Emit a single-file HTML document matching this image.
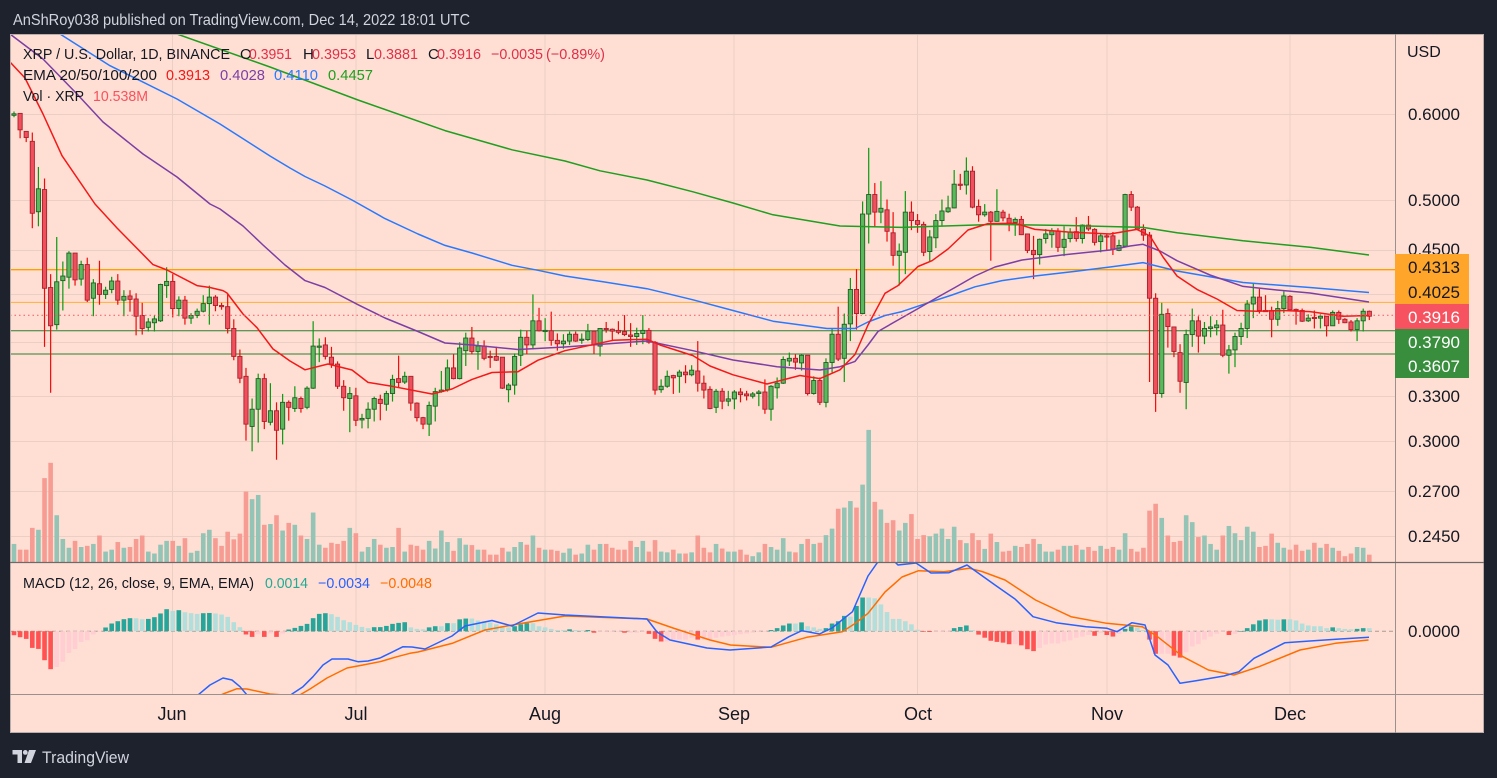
<!DOCTYPE html>
<html><head><meta charset="utf-8">
<style>
html,body{margin:0;padding:0;background:#1e222d;width:1497px;height:778px;overflow:hidden}
svg{display:block}
text{font-family:"Liberation Sans",sans-serif}
</style></head><body>
<svg id="s" width="1497" height="778" viewBox="0 0 1497 778" xmlns="http://www.w3.org/2000/svg">
<defs>
<clipPath id="cm"><rect x="10" y="34" width="1385" height="528"/></clipPath>
<clipPath id="cd"><rect x="10" y="563" width="1385" height="131"/></clipPath>
</defs>
<rect width="1497" height="778" fill="#1e222d"/>
<text x="13" y="25" fill="#d1d4dc" font-size="16" textLength="457" lengthAdjust="spacingAndGlyphs">AnShRoy038 published on TradingView.com, Dec 14, 2022 18:01 UTC</text>
<rect x="10" y="34" width="1474" height="699" fill="#ffdfd3"/>
<g id="grid"></g>
<g id="main" clip-path="url(#cm)"></g>
<g id="macd" clip-path="url(#cd)"></g>
<g id="frame">
<line x1="10" y1="34.5" x2="1484" y2="34.5" stroke="#b9aeaa" stroke-width="1"/>
<line x1="10.5" y1="34" x2="10.5" y2="733" stroke="#b9aeaa" stroke-width="1"/>
<line x1="1483.5" y1="34" x2="1483.5" y2="733" stroke="#b9aeaa" stroke-width="1"/>
<line x1="10" y1="732.5" x2="1484" y2="732.5" stroke="#b9aeaa" stroke-width="1"/>
<line x1="1395.5" y1="34" x2="1395.5" y2="733" stroke="#9a918e" stroke-width="1"/>
<line x1="10" y1="562.5" x2="1484" y2="562.5" stroke="#6f6a69" stroke-width="1.2"/>
<line x1="10" y1="694.5" x2="1484" y2="694.5" stroke="#9a918e" stroke-width="1"/>
</g>
<g font-size="15" fill="#131722">
<text x="23" y="59" textLength="207" lengthAdjust="spacingAndGlyphs">XRP / U.S. Dollar, 1D, BINANCE</text>
<text x="240" y="59">O</text><text x="249" y="59" fill="#e0304a" textLength="43" lengthAdjust="spacingAndGlyphs">0.3951</text>
<text x="303" y="59">H</text><text x="312" y="59" fill="#e0304a" textLength="44" lengthAdjust="spacingAndGlyphs">0.3953</text>
<text x="366" y="59">L</text><text x="374" y="59" fill="#e0304a" textLength="44" lengthAdjust="spacingAndGlyphs">0.3881</text>
<text x="428" y="59">C</text><text x="437" y="59" fill="#e0304a" textLength="44" lengthAdjust="spacingAndGlyphs">0.3916</text>
<text x="491" y="59" fill="#e0304a" textLength="52" lengthAdjust="spacingAndGlyphs">−0.0035</text>
<text x="546" y="59" fill="#e0304a" textLength="59" lengthAdjust="spacingAndGlyphs">(−0.89%)</text>
<text x="23" y="80" textLength="134" lengthAdjust="spacingAndGlyphs">EMA 20/50/100/200</text>
<text x="166" y="80" fill="#f41818" textLength="44" lengthAdjust="spacingAndGlyphs">0.3913</text>
<text x="220" y="80" fill="#7b3fa6" textLength="45" lengthAdjust="spacingAndGlyphs">0.4028</text>
<text x="274" y="80" fill="#2979ff" textLength="44" lengthAdjust="spacingAndGlyphs">0.4110</text>
<text x="328" y="80" fill="#1f9e1f" textLength="45" lengthAdjust="spacingAndGlyphs">0.4457</text>
<text x="23" y="101" textLength="61" lengthAdjust="spacingAndGlyphs">Vol · XRP</text>
<text x="93" y="101" fill="#f7525f" textLength="55" lengthAdjust="spacingAndGlyphs">10.538M</text>
<text x="23" y="588" textLength="231" lengthAdjust="spacingAndGlyphs">MACD (12, 26, close, 9, EMA, EMA)</text>
<text x="265" y="588" fill="#22ab94" textLength="43" lengthAdjust="spacingAndGlyphs">0.0014</text>
<text x="318" y="588" fill="#2962ff" textLength="52" lengthAdjust="spacingAndGlyphs">−0.0034</text>
<text x="380" y="588" fill="#ff6d00" textLength="52" lengthAdjust="spacingAndGlyphs">−0.0048</text>
</g>
<g font-size="17" fill="#131722">
<text x="1407" y="57" font-size="16">USD</text>
<text x="1408" y="120">0.6000</text>
<text x="1408" y="206">0.5000</text>
<text x="1408" y="255">0.4500</text>
<text x="1408" y="402">0.3300</text>
<text x="1408" y="447">0.3000</text>
<text x="1408" y="497">0.2700</text>
<text x="1408" y="542">0.2450</text>
<text x="1408" y="637">0.0000</text>
</g>
<g font-size="17">
<rect x="1395" y="254" width="74" height="25" fill="#ffa52a"/>
<text x="1408" y="273" fill="#131722">0.4313</text>
<rect x="1395" y="279" width="74" height="25" fill="#ffa52a"/>
<text x="1408" y="298" fill="#131722">0.4025</text>
<rect x="1395" y="304" width="74" height="25" fill="#f7525f"/>
<text x="1408" y="323" fill="#ffffff">0.3916</text>
<rect x="1395" y="329" width="74" height="25" fill="#388e3c"/>
<text x="1408" y="348" fill="#ffffff">0.3790</text>
<rect x="1395" y="354" width="74" height="24" fill="#388e3c"/>
<text x="1408" y="372" fill="#ffffff">0.3607</text>
</g>
<g font-size="18" fill="#131722" text-anchor="middle">
<text x="172" y="720">Jun</text>
<text x="356" y="720">Jul</text>
<text x="545" y="720">Aug</text>
<text x="734" y="720">Sep</text>
<text x="918" y="720">Oct</text>
<text x="1107" y="720">Nov</text>
<text x="1290" y="720">Dec</text>
</g>
<g fill="#d1d4dc">
<path d="M12.5,750 H22 V763 H17.5 V754.5 H12.5 Z"/>
<circle cx="25.3" cy="752.4" r="2.4"/>
<path d="M29,750 H36 L31,763 H24.5 Z"/>
<text x="42" y="763" font-size="17" textLength="87" lengthAdjust="spacingAndGlyphs">TradingView</text>
</g>
</svg>
<script>
(function(){
var NS='http://www.w3.org/2000/svg';
function el(p,t,a){var e=document.createElementNS(NS,t);for(var k in a)e.setAttribute(k,a[k]);p.appendChild(e);return e;}
function Y(z){return 100+z/2.613;}
function X(i){return 14+6.105*i;}
function yP(p){return 200+471.7*Math.log(0.5/p);}
var C=[40,36,30,45,35,78,35,100,82,98,82,110,108,296,85,335,292,232,175,330,234,492,205,645,490,590,455,765,587,475,358,600,472,460,422,550,463,400,395,493,400,470,400,485,468,430,420,485,430,523,412,528,518,478,468,565,480,508,420,535,508,497,488,520,495,473,462,505,473,523,455,535,523,513,497,565,512,521,497,553,520,565,505,615,563,597,530,613,594,580,570,605,582,572,563,605,577,482,480,580,485,474,437,517,474,545,455,568,545,523,513,565,523,570,512,587,570,563,557,585,563,552,545,570,552,532,510,555,532,515,485,587,515,537,510,552,537,539,530,548,540,597,505,610,597,670,573,680,670,727,652,740,722,847,700,890,853,808,780,918,808,728,715,895,728,840,715,860,842,812,740,850,812,863,790,940,860,790,768,900,790,803,785,838,806,778,748,815,780,806,775,817,803,753,748,808,753,643,578,755,645,643,623,685,640,670,620,678,672,690,645,700,690,748,683,755,748,778,732,812,780,767,750,868,773,837,752,852,836,832,820,858,832,808,790,858,808,780,775,840,782,793,770,837,795,767,760,812,767,730,718,788,728,738,668,750,737,722,710,742,722,792,722,812,792,830,790,840,830,847,828,860,847,798,788,878,800,762,752,840,762,758,708,765,757,700,678,762,700,728,665,730,728,648,633,730,655,622,608,695,622,657,593,665,657,643,630,705,643,675,628,680,670,672,655,700,670,680,645,682,672,753,672,755,757,745,740,790,745,670,662,770,667,620,600,695,620,640,603,665,640,577,508,652,577,603,543,605,604,602,570,630,603,628,553,642,628,637,610,655,637,630,612,650,630,612,605,640,612,630,605,632,628,625,610,637,626,604,585,630,604,640,603,663,643,597,597,670,597,600,580,608,599,604,597,630,602,607,578,612,605,613,562,617,614,618,583,645,618,610,595,640,610,602,562,638,602,633,596,637,633,758,630,770,757,748,730,765,748,722,707,752,720,726,718,768,722,711,705,765,711,718,693,740,718,706,693,722,708,740,630,762,740,758,720,780,756,806,748,808,803,761,755,818,761,787,753,808,787,781,760,800,781,763,758,808,763,770,753,790,768,773,760,785,774,768,763,780,767,763,758,800,763,808,730,820,808,748,745,838,752,740,725,780,740,678,670,742,682,675,660,695,675,685,665,705,687,667,665,707,667,767,667,772,767,733,722,770,733,790,725,797,790,686,675,803,686,612,598,712,612,677,540,682,675,586,558,737,585,495,465,630,495,558,442,600,558,298,265,560,298,247,125,375,247,293,217,332,293,283,212,322,287,343,260,370,347,406,293,433,406,395,375,485,398,293,238,455,293,315,265,340,315,325,298,347,325,398,318,408,396,358,340,423,360,315,298,387,315,290,260,330,292,282,250,295,282,220,183,283,220,222,193,235,222,186,150,247,186,280,173,283,278,300,260,318,300,293,272,305,293,317,290,420,317,291,233,318,293,308,287,317,309,322,297,343,320,312,307,355,312,352,303,353,350,393,350,400,393,404,355,468,404,364,362,430,362,350,337,375,352,342,335,386,342,385,335,397,385,364,330,408,362,345,335,372,344,362,306,370,362,327,325,375,327,337,303,342,338,372,335,380,370,355,350,398,355,357,350,393,355,390,345,405,393,380,365,395,382,247,245,385,247,280,238,290,280,337,277,340,338,353,325,368,353,518,345,737,518,767,505,815,767,560,530,778,558,592,545,647,593,657,593,672,660,735,638,765,738,613,600,808,613,577,545,645,577,617,565,660,617,597,580,638,597,593,565,620,595,588,575,615,588,667,548,672,667,653,640,715,653,618,608,698,618,597,582,640,597,533,523,622,533,515,480,570,515,550,493,558,550,552,510,552,550,573,540,620,573,545,525,590,545,512,500,557,513,548,510,552,547,550,545,587,550,578,545,580,577,570,560,580,568,570,550,597,570,565,560,597,565,590,565,618,590,555,550,590,555,573,550,585,573,582,570,583,580,600,575,605,600,577,570,630,577,552,545,605,552,565,550,575];
var V=[1160,1175,1175,1118,1123,988,948,1085,1147,1170,1152,1168,1165,1160,1138,1180,1175,1155,1170,1168,1147,1138,1180,1185,1162,1152,1152,1165,1145,1183,1178,1132,1123,1145,1165,1128,1148,1133,1023,1043,1032,1110,1108,1085,1125,1105,
1110,1138,1147,1078,1162,1170,1157,1160,1152,1118,1132,1180,1168,1147,1162,1170,1168,1118,1180,1162,1165,1175,1152,1172,1125,1155,1178,1145,1162,1163,1175,1175,1188,1188,1170,1180,1168,1155,1162,1138,1170,1175,1175,1178,1183,
1172,1188,1185,1162,1175,1160,1160,1170,1175,1175,1152,1168,1152,1180,1150,1180,1182,1175,1185,1185,1182,1138,1170,1182,1160,1172,1180,1180,1175,1188,1192,1182,1160,1168,1175,1145,1180,1182,1160,1147,1160,1157,1137,1120,1068,
1065,1048,1065,1005,862,1050,1070,1105,1098,1125,1105,1082,1147,1137,1140,1133,1120,1147,1115,1150,1158,1132,1150,1173,1133,1155,1180,1178,1165,1168,1160,1147,1160,1180,1180,1175,1165,1165,1163,1175,1168,1178,1165,1173,1168,
1175,1132,1173,1180,1170,1073,1055,1092,1138,1155,1152,1085,1103,1142,1138,1160,1175,1138,1113,1132,1150,1115,1128,1168,1165,1133,1157,1170,1175,1162,1178,1175,1157,1170,1160,1170,1178,1192,1185,1168,1170,1188];
var H=[1398.5,1403.7,1408.1,1431.6,1434.3,1463.8,1487.3,1481.3,1468.2,1444.7,1434.3,1416,1411.5,1396.6,1389.3,1378.3,1367.9,1361.9,1356.6,1354,1354.3,1356.6,1355.9,1351.4,1341.7,1330.5,1335,1333.1,1338.4,1341,1342.8,1341,1340.4,1341.7,1344.4,1350.6,1364.5,1377.5,1396.6,1402.9,1395.8,1402.9,1394,1402.9,1394,1383.6,1379.4,1374.2,1368.9,1354,1342.8,1341,1343.6,1350.6,1359.3,1364.5,1371.5,1376.8,1380.2,1377.5,1377.3,1374.2,1368.9,1366.3,1364.5,
1378,1382,1383,1378,1375,1375,1367,1367,1357,1355,1355,1360,1362,1365,1370,1375,1378,1375,1370,1367,1367,1375,1378,1382,1385,1385,
1383,1385,1386,1385,1392,1390,1390,1390,1390,1392,1392,1392,1390,1395,1408,1415,1415,1410,1410,1410,1405,1410,1410,1410,1405,1402,1400,1398,1396,1394,1392,1390,1390,1385,1380,1373,1368,1368,1365,1375,1378,1382,1380,1368,1362,
1348,1350,1322,1300,1300,1302,1318,1338,1356,1356,1362,1370,1384,1389,1390,1390,1390,1390,1380,1377,1373,1385,1397,1405,1413,1416,1418,1422,1422,1425,1435,1440,1432,1423,1420,1420,1415,1412,1405,1402,1398,1400,1393,1398,1402,
1395,1382,1376,1378,1385,1410,1447,1447,1447,1452,1457,1443,1428,1422,1410,1402,1395,1390,1398,1395,1388,1380,1370,1360,1357,1357,1358,1357,1357,1360,1368,1373,1375,1375,1380,1378,1380,1382,1383,1382,1380,1380];
var E200=[[150,26],[177,34],[270,67],[358,100],[445,130.6],[512,149.8],[565,161],[600,170.8],[647,180],[693,191.8],[733,203],[773,214.8],[840,226],[902,227.4],[995,224.4],[1068,225.5],[1143,227.4],[1177,232.8],[1243,240.8],[1310,247.3],[1369,255]];
var E100=[[45,25],[60,34],[110,65.7],[177,99],[220,124],[270,156],[290,168],[305,176.5],[325,186],[352,200],[385,218.6],[418,234],[445,245.4],[472,253],[512,265.3],[538,270.3],[565,276],[603,281.8],[647,288.7],[693,299.8],[733,310.5],[773,321.2],[827,328.5],[855,328.5],[868,322],[885,315.5],[902,311.6],[928,302.8],[952,295],[975,286.8],[1002,280.6],[1035,276],[1075,271.4],[1110,267],[1143,262.6],[1177,271],[1243,282.5],[1310,287.5],[1369,292.5]];
var E50=[[4,28],[10,34],[43,59],[77,94],[103,122],[143,154],[177,177],[210,204],[220,209],[243,226],[263,245],[285,265],[305,280.6],[325,287.5],[358,304.7],[385,318],[418,331.5],[445,343],[472,345],[518,349.5],[565,347],[647,341],[693,350.7],[733,360],[777,366.7],[820,370],[840,366.7],[855,361.4],[868,345],[878,331.5],[898,320],[918,308.6],[938,297],[955,287.5],[975,276],[995,267],[1022,260],[1062,255],[1110,250],[1130,246],[1143,244.3],[1160,251],[1177,260.7],[1210,275],[1243,286.4],[1277,290],[1310,293],[1343,298],[1369,302]];
var E20=[[10,62],[25,78],[43,114],[62,155.7],[95,204],[117,228],[153,264.6],[167,270],[197,285.6],[210,287.5],[223,290.6],[227,293],[243,314],[257,327.7],[273,349],[277,351.8],[290,361],[305,369.8],[328,364],[352,370],[368,382.4],[392,386.3],[432,394],[452,389],[472,379.4],[492,372.5],[518,371.7],[538,360.2],[565,350.7],[613,340.3],[647,339.2],[660,345],[693,355.6],[710,366],[733,374.8],[767,384],[800,375.5],[820,378.6],[840,369.8],[855,354.5],[868,325],[885,293.3],[898,285.6],[918,266.5],[932,260.7],[948,249],[968,230],[988,223.6],[1015,223.2],[1035,229.4],[1068,232],[1110,234],[1137,229.4],[1150,236],[1163,257],[1177,276],[1197,289.4],[1217,299],[1237,310.5],[1257,311.3],[1283,310.5],[1310,311.6],[1343,316.2],[1369,315.5]];
var MB=[[14,760],[120,735],[180,705],[198,695],[210,685],[223,678],[232,680],[240,686.7],[247,695],[260,705],[280,705],[292,694],[303,686.7],[313,676.7],[323,665],[332,659],[348,659],[358,661.7],[368,661],[380,658],[393,651.7],[403,646.7],[412,647],[425,649],[452,636],[465,626],[492,620.5],[512,626],[538,613],[565,615],[647,619],[657,632],[670,640],[707,648],[730,650],[771,647],[789,636.7],[801.7,630.7],[819.5,634],[832,628],[852.5,611.7],[868,576],[878,561.7],[885,556],[892,559],[898,565],[916,563],[931,573],[949,572.7],[967,565],[995,585],[1015,599],[1033,616.7],[1056,622.7],[1086,626.7],[1107,628.3],[1117,631.7],[1132,622.7],[1145,625],[1155,655],[1168,665],[1180,683.3],[1196,680.7],[1224,676],[1239,671.7],[1254,658.3],[1285,642.7],[1310,641],[1336,639.3],[1369,637.3]];
var MS=[[14,752],[150,718],[210,700],[223,694],[237,688.7],[247,689],[270,694],[298,696],[310,689],[327,678],[347,668],[363,665],[380,661.7],[397,656.7],[410,653.3],[418,652],[452,643.4],[485,630],[518,624],[565,616],[647,619],[673,628],[710,640],[730.5,645],[771,647.3],[806.8,637.3],[842.3,631.7],[855,623.5],[868,613.3],[885,592],[893,585],[902,577],[918.6,570.7],[944,571.7],[969.4,568.3],[982,571.5],[1005,580],[1035.5,600],[1071,616.7],[1106.7,623.3],[1142.3,626.7],[1157.5,636.7],[1183,656.7],[1208.4,670],[1233.8,675],[1259,666.7],[1300,650],[1335.5,643.3],[1368.5,640]];
var gG=document.getElementById('grid'),gM=document.getElementById('main'),gD=document.getElementById('macd');
var gc='#ebcfc5';
[0.6,0.5,0.45,0.41,0.37,0.33,0.3,0.27,0.245].forEach(function(p){var y=Math.round(yP(p))+0.5;el(gG,'line',{x1:10,x2:1395,y1:y,y2:y,stroke:gc,'stroke-width':1});});
[172.5,356,545,734,917.5,1107,1290].forEach(function(x){el(gG,'line',{x1:x,x2:x,y1:34,y2:694,stroke:gc,'stroke-width':1});});
var n=Math.floor(C.length/4);
for(var i=0;i<n&&i<V.length;i++){
  var o=C[4*i],c=C[4*i+1];var up=c<=o;var y=Y(V[i]);
  el(gM,'rect',{x:(X(i)-2.3).toFixed(2),y:y.toFixed(2),width:4.6,height:(562-y).toFixed(2),fill:up?'#93c4b6':'#f79c93'});
}
el(gM,'line',{x1:10,x2:1395,y1:yP(0.4313),y2:yP(0.4313),stroke:'#ffa000','stroke-width':1.4});
el(gM,'line',{x1:10,x2:1395,y1:yP(0.4025),y2:yP(0.4025),stroke:'#ffae3a','stroke-width':1});
el(gM,'line',{x1:10,x2:1395,y1:yP(0.379),y2:yP(0.379),stroke:'#2e7d32','stroke-width':1});
el(gM,'line',{x1:10,x2:1395,y1:yP(0.3607),y2:yP(0.3607),stroke:'#2e7d32','stroke-width':1});
for(var i=0;i<n;i++){
  var o=C[4*i],c=C[4*i+1],h=C[4*i+2],l=C[4*i+3];var up=c<=o;var x=X(i);
  el(gM,'line',{x1:x.toFixed(2),x2:x.toFixed(2),y1:Y(h).toFixed(2),y2:Y(l).toFixed(2),stroke:up?'#0a9a12':'#f20a0a','stroke-width':1.2});
  var y1=Math.min(Y(o),Y(c)),hh=Math.max(Math.abs(Y(o)-Y(c)),1.2);
  el(gM,'rect',{x:(x-2.1).toFixed(2),y:y1.toFixed(2),width:4.2,height:hh.toFixed(2),fill:up?'#5cb85c':'#f0505c',stroke:up?'#1f5f24':'#a8202c','stroke-width':0.9});
}
function pl(g,pts,col,w){el(g,'polyline',{points:pts.map(function(p){return p[0]+','+p[1];}).join(' '),fill:'none',stroke:col,'stroke-width':w,'stroke-linejoin':'round'});}
pl(gM,E200,'#1f9e1f',1.5);
pl(gM,E100,'#2979ff',1.5);
pl(gM,E50,'#7b3fa6',1.5);
pl(gM,E20,'#f41818',1.5);
var yc=yP(0.3916);
el(gM,'line',{x1:10,x2:1395,y1:yc,y2:yc,stroke:'#f7525f','stroke-width':1,'stroke-dasharray':'1.5,3'});
var z0=Y(1388);
el(gD,'line',{x1:10,x2:1395,y1:z0,y2:z0,stroke:'#a89a96','stroke-width':1,'stroke-dasharray':'4,3'});
var prev=0;
for(var i=0;i<n&&i<H.length;i++){
  var hv=1388-H[i];var col;
  if(hv>=0){col=(hv>prev)?'#26a69a':'#b2dfdb';}else{col=(hv<prev)?'#ff5252':'#ffcdd2';}
  prev=hv;var t=Y(H[i]);var yy=Math.min(t,z0),hh=Math.abs(t-z0);if(hh<0.6)hh=0.6;
  el(gD,'rect',{x:(X(i)-2.3).toFixed(2),y:yy.toFixed(2),width:4.6,height:hh.toFixed(2),fill:col});
}
pl(gD,MS,'#ff6d00',1.5);
pl(gD,MB,'#2962ff',1.5);
})();
</script>
</body></html>
